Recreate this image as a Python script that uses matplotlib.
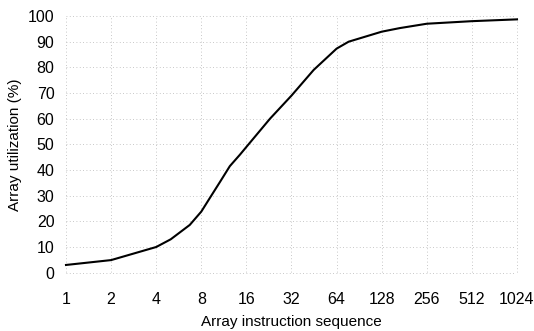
import numpy as np
import matplotlib
matplotlib.use('Agg')
import matplotlib.pyplot as plt
from matplotlib.ticker import FixedLocator, FixedFormatter, NullLocator

# ---------------------------
# Datos
# ---------------------------
seq_len = [1, 2, 4, 5, 6.7, 8, 9.1, 10.7, 12.4, 14.5, 16, 23, 32, 45, 64, 77, 128, 169, 256, 512, 1024]
utilization = [3.0, 4.9, 10.0, 13.0, 18.6, 23.8, 29.0, 35.5, 41.5, 46.0, 49.0, 60.0, 69.0, 79.0,
               87.3, 90.0, 93.9, 95.3, 97.0, 98.0, 98.7]

x_ticks = [1, 2, 4, 8, 16, 32, 64, 128, 256, 512, 1024]
x_tick_labels = [str(v) for v in x_ticks]
y_ticks = list(range(0, 101, 10))

plt.rcParams['font.family'] = ['Liberation Sans', 'DejaVu Sans']

W, H = 534, 331
fig = plt.figure(figsize=(W / 100, H / 100), dpi=100)
# área de ejes en píxeles
left, right, top, bottom = 60, 522, 10.9, 277.8
ax = fig.add_axes([left / W, 1 - bottom / H, (right - left) / W, (bottom - top) / H])

ax.set_xscale('log', base=2)
ax.set_xlim(2 ** -0.133, 2 ** 10.111)
ax.set_ylim(-2, 102)

# rejilla tenue y punteada
grid_kw = dict(color='#b5b5b5', linewidth=0.6, linestyle=(0, (1, 3)), zorder=1)
for xv in x_ticks:
    ax.axvline(xv, ymin=0.02, ymax=0.98, **grid_kw)
for yv in y_ticks:
    ax.axhline(yv, xmin=0.013, xmax=0.987, **grid_kw)

ax.plot(seq_len, utilization, color='black', linewidth=1.5, zorder=3)

ax.xaxis.set_major_locator(FixedLocator(x_ticks))
ax.xaxis.set_major_formatter(FixedFormatter(x_tick_labels))
ax.xaxis.set_minor_locator(NullLocator())
ax.set_yticks(y_ticks)

ax.tick_params(axis='both', length=0, labelsize=11.5)
ax.tick_params(axis='x', pad=10)
ax.tick_params(axis='y', pad=4)
for s in ax.spines.values():
    s.set_visible(False)

ax.set_xlabel('Array instruction sequence', fontsize=11, labelpad=6)
ax.set_ylabel('Array utilization (%)', fontsize=11, labelpad=4)

fig.savefig('out.png', dpi=100)
